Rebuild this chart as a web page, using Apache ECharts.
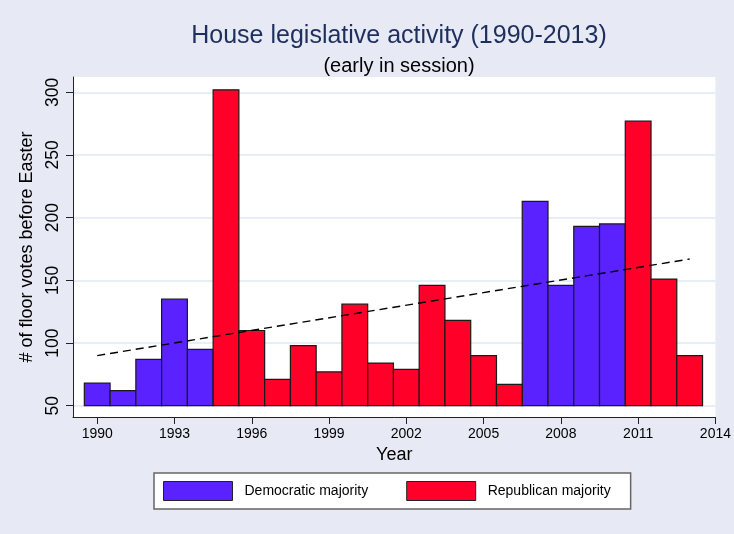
<!DOCTYPE html>
<html>
<head>
<meta charset="utf-8">
<script src="https://cdn.jsdelivr.net/npm/echarts@6/dist/echarts.min.js"></script>
<style>
html,body{margin:0;padding:0;background:#e7eaf4;}
#c{width:734px;height:534px;}
</style>
</head>
<body>
<div id="c"></div>
<script>
const years = [1990,1991,1992,1993,1994,1995,1996,1997,1998,1999,2000,2001,2002,2003,2004,2005,2006,2007,2008,2009,2010,2011,2012,2013];
const votes = [68,62,87,135,95,302,110,71,98,77,131,84,79,146,118,90,67,213,146,193,195,277,151,90];
const majority = ['D','D','D','D','D','R','R','R','R','R','R','R','R','R','R','R','R','D','D','D','D','R','R','R'];
const trendYears = [1990, 2013];
const trendValues = [90, 167];
const xTicks = [1990,1993,1996,1999,2002,2005,2008,2011,2014];
const yTicks = [50,100,150,200,250,300];
const barBase = 50;

const FONT = 'Liberation Sans, Arial, Helvetica, sans-serif';
const demColor = '#5a22ff';
const repColor = '#ff0028';

function makeData(code){
  const out = [];
  years.forEach((y,i)=>{ if (majority[i]===code) out.push([y, votes[i]]); });
  return out;
}
function renderBar(color){
  return function(params, api){
    const x = api.value(0), v = api.value(1);
    const p0 = api.coord([x-0.5, barBase]);
    const p1 = api.coord([x+0.5, v]);
    return {
      type:'rect',
      shape:{x:p0[0], y:p1[1], width:p1[0]-p0[0], height:p0[1]-p1[1]},
      style:{fill:color, stroke:'#1a1a1a', lineWidth:1.2}
    };
  };
}

const chart = echarts.init(document.getElementById('c'));
chart.setOption({
  backgroundColor:'#e7eaf4',
  animation:false,
  title:[
    {text:'House legislative activity (1990-2013)', left:394, top:19, textAlign:'center',
     textStyle:{fontFamily:FONT, fontSize:25, fontWeight:'normal', color:'#1e2f5e'}},
    {text:'(early in session)', left:394, top:51, textAlign:'center',
     textStyle:{fontFamily:FONT, fontSize:20, fontWeight:'normal', color:'#000'}}
  ],
  grid:{left:73, right:18.3, top:77, bottom:117, show:true, backgroundColor:'#fff', borderWidth:0, containLabel:false},
  xAxis:{
    type:'value', min:1989.06, max:2014,
    name:'Year', nameLocation:'middle', nameGap:26,
    nameTextStyle:{fontFamily:FONT, fontSize:18, color:'#000'},
    axisLine:{show:true, onZero:false, lineStyle:{color:'#222', width:1}},
    axisTick:{show:true, length:7, lineStyle:{color:'#222'}, customValues:xTicks},
    axisLabel:{customValues:xTicks, formatter:(v)=>String(v), fontFamily:FONT, fontSize:14, color:'#000', margin:10},
    splitLine:{show:false}
  },
  yAxis:{
    type:'value', min:41, max:312.2,
    name:'# of floor votes before Easter', nameLocation:'middle', nameGap:31,
    nameTextStyle:{fontFamily:FONT, fontSize:18, color:'#000'},
    axisLine:{show:true, onZero:false, lineStyle:{color:'#222', width:1}},
    axisTick:{show:true, length:7, lineStyle:{color:'#222'}, customValues:yTicks},
    axisLabel:{customValues:yTicks, rotate:90, fontFamily:FONT, fontSize:17.5, color:'#000', margin:11},
    splitLine:{show:true, lineStyle:{color:'#e1e8f3', width:1.5}}
  },
  legend:{
    data:['Democratic majority','Republican majority'],
    left:154, top:473, orient:'horizontal',
    icon:'rect', itemWidth:69, itemHeight:19, itemGap:38,
    padding:[8,20,8,9],
    backgroundColor:'#fff', borderColor:'#666', borderWidth:1.5,
    itemStyle:{borderColor:'#222', borderWidth:1},
    textStyle:{fontFamily:FONT, fontSize:14, color:'#000', padding:[0,0,0,7]}
  },
  series:[
    {name:'Democratic majority', type:'custom', renderItem:renderBar(demColor),
     itemStyle:{color:demColor, borderColor:'#222', borderWidth:1},
     encode:{x:0, y:1}, data:makeData('D'), z:2},
    {name:'Republican majority', type:'custom', renderItem:renderBar(repColor),
     itemStyle:{color:repColor, borderColor:'#222', borderWidth:1},
     encode:{x:0, y:1}, data:makeData('R'), z:2},
    {name:'Fit', type:'line', data:trendYears.map((y,i)=>[y, trendValues[i]]),
     symbol:'none', lineStyle:{color:'#000', width:1.4, type:[8,5]}, z:5, silent:true}
  ]
});
</script>
</body>
</html>
